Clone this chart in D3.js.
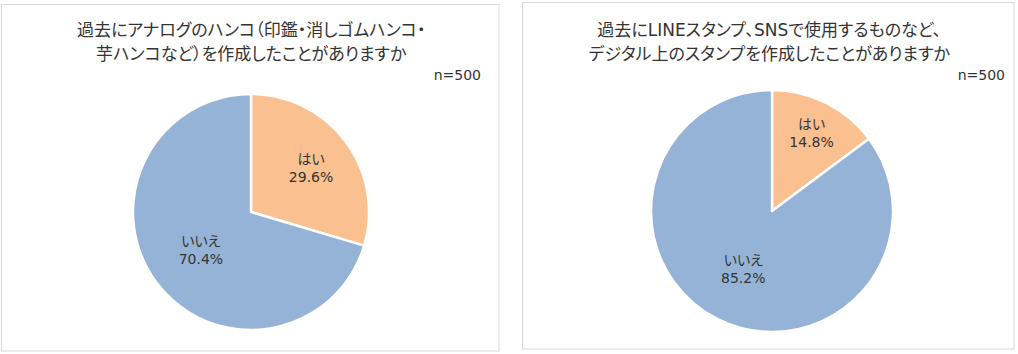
<html>
<head>
  <meta charset="utf-8">
  <script src="https://d3js.org/d3.v7.min.js"></script>
  <style>
    body { margin: 0; background: #fff; }
    text { font-family: "DejaVu Sans", "Noto Sans CJK JP", sans-serif; fill: #333; font-feature-settings: "palt"; }
  </style>
</head>
<body>
<svg id="chart" width="1018" height="354"></svg>
<script>
  // answers, same order in both charts (clockwise from top)
  const categories = ["はい", "いいえ"];
  const analogValues = [29.6, 70.4];
  const digitalValues = [14.8, 85.2];
  const analogTitle = ["過去にアナログのハンコ（印鑑・消しゴムハンコ・", "芋ハンコなど）を作成したことがありますか"];
  const digitalTitle = ["過去にLINEスタンプ、SNSで使用するものなど、", "デジタル上のスタンプを作成したことがありますか"];
  const sampleLabel = "n=500";

  const colors = d3.scaleOrdinal().domain(categories).range(["#fac090", "#95b3d7"]);

  const charts = [
    { values: analogValues, title: analogTitle, box: [1.5, 4.5, 497.5, 346.5], cx: 251, cy: 212, r: 118, nx: 481, labelR: [0.635, 0.53] },
    { values: digitalValues, title: digitalTitle, box: [522.5, 2.5, 491.5, 346.5], cx: 772, cy: 211, r: 121, nx: 1005, labelR: [0.73, 0.53] }
  ];

  const svg = d3.select("#chart");

  charts.forEach(function(c) {
    svg.append("rect")
      .attr("x", c.box[0]).attr("y", c.box[1])
      .attr("width", c.box[2]).attr("height", c.box[3])
      .attr("fill", "#fff").attr("stroke", "#d9d9d9").attr("stroke-width", 1);

    const midX = c.box[0] + c.box[2] / 2;
    svg.selectAll(null).data(c.title).join("text")
      .attr("x", midX + 1)
      .attr("y", (d, i) => 36 + i * 24)
      .attr("text-anchor", "middle")
      .attr("font-size", 17)
      .text(d => d);

    svg.append("text")
      .attr("x", c.nx).attr("y", 80)
      .attr("text-anchor", "end")
      .attr("font-size", 14)
      .text(sampleLabel);

    const data = categories.map((k, i) => ({ key: k, value: c.values[i], i: i }));
    const pie = d3.pie().sort(null).value(d => d.value);
    const arc = d3.arc().innerRadius(0).outerRadius(c.r);
    const g = svg.append("g").attr("transform", "translate(" + c.cx + "," + c.cy + ")");

    const arcs = pie(data);
    g.selectAll("path").data(arcs).join("path")
      .attr("d", arc)
      .attr("fill", d => colors(d.data.key))
      .attr("stroke", "#fff")
      .attr("stroke-width", 2.5)
      .attr("stroke-linejoin", "round");

    arcs.forEach(function(d) {
      const lr = c.r * c.labelR[d.data.i];
      const a = (d.startAngle + d.endAngle) / 2;
      const x = Math.sin(a) * lr, y = -Math.cos(a) * lr;
      g.append("text")
        .attr("x", x).attr("y", y - 3)
        .attr("text-anchor", "middle")
        .attr("font-size", 14)
        .text(d.data.key);
      g.append("text")
        .attr("x", x).attr("y", y + 15)
        .attr("text-anchor", "middle")
        .attr("font-size", 14)
        .text(d.data.value.toFixed(1) + "%");
    });
  });
</script>
</body>
</html>
